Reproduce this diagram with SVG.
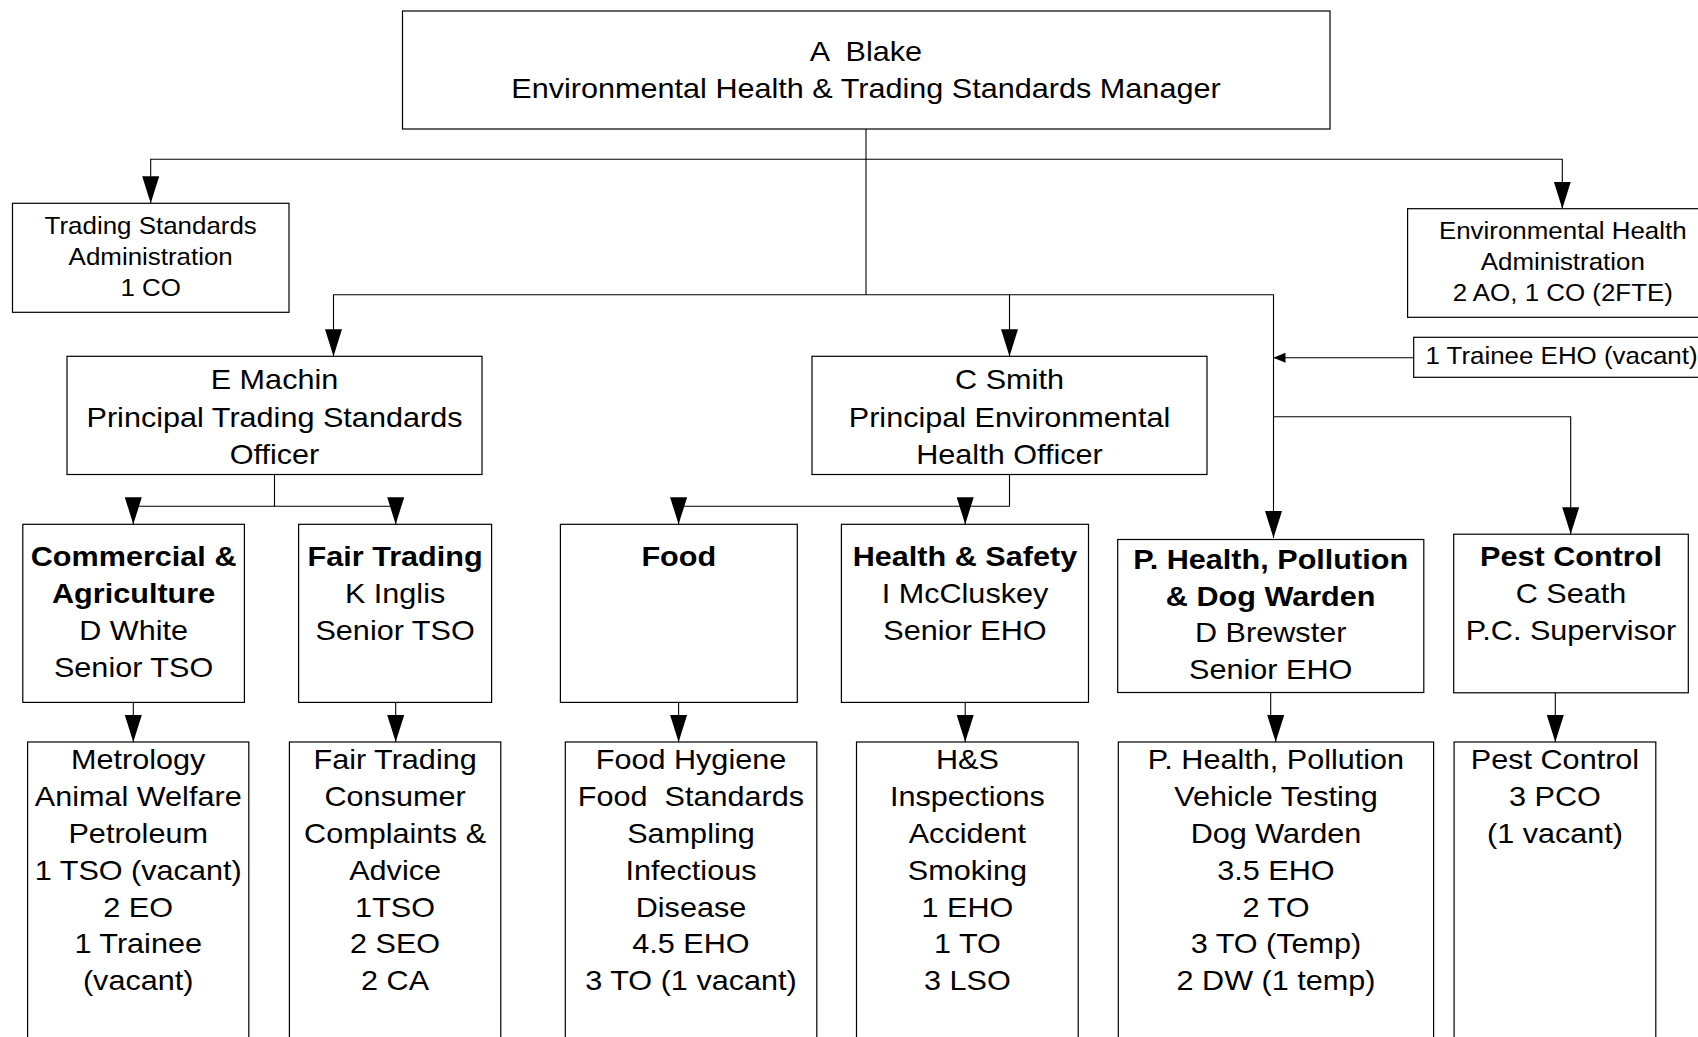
<svg xmlns="http://www.w3.org/2000/svg" width="1698" height="1037" viewBox="0 0 1698 1037">
<style>
.box { fill: #fff; stroke: #000; stroke-width: 1.2; }
.c { fill: none; stroke: #000; stroke-width: 1.1; }
.t { font-family: "Liberation Sans", Arial, sans-serif; font-size: 28px; text-anchor: middle; fill: #000; transform-box: fill-box; transform-origin: center; transform: scaleX(1.093); }
.b { font-weight: bold; }
.s { font-size: 24px; transform: scaleX(1.08); }
</style>
<defs>
<marker id="ah" viewBox="0 0 27 17" refX="27" refY="8.5" markerWidth="27" markerHeight="17" markerUnits="userSpaceOnUse" orient="auto">
<path d="M0,0 L27,8.5 L0,17 Z" fill="#000"/>
</marker>
<marker id="ahs" viewBox="0 0 12 10" refX="12" refY="5" markerWidth="12" markerHeight="10" markerUnits="userSpaceOnUse" orient="auto">
<path d="M0,0 L12,5 L0,10 Z" fill="#000"/>
</marker>
</defs>
<rect width="1698" height="1037" fill="#fff"/>

<g id="connectors">
<path class="c" d="M866,129 V294.7"/>
<path class="c" d="M866,159.3 H150.7 V203.3" marker-end="url(#ah)"/>
<path class="c" d="M866,159.3 H1562.3 V208.7" marker-end="url(#ah)"/>
<path class="c" d="M866,294.7 H333.5 V356.3" marker-end="url(#ah)"/>
<path class="c" d="M866,294.7 H1009.5 V356.3" marker-end="url(#ah)"/>
<path class="c" d="M1009.5,294.7 H1273.5 V538" marker-end="url(#ah)"/>
<path class="c" d="M1413.7,357.7 H1273.5" marker-end="url(#ahs)"/>
<path class="c" d="M1273.5,416.7 H1570.7 V534.2" marker-end="url(#ah)"/>
<path class="c" d="M274.5,474.5 V506.2 H133.3 V524.3" marker-end="url(#ah)"/>
<path class="c" d="M274.5,506.2 H395.7 V524.3" marker-end="url(#ah)"/>
<path class="c" d="M1009.5,474.5 V506.2 H678.6 V524.3" marker-end="url(#ah)"/>
<path class="c" d="M965.2,506.2 V524.3" marker-end="url(#ah)"/>
<path class="c" d="M133.3,702.4 V742" marker-end="url(#ah)"/>
<path class="c" d="M395.7,702.4 V742" marker-end="url(#ah)"/>
<path class="c" d="M678.6,702.4 V742" marker-end="url(#ah)"/>
<path class="c" d="M965.2,702.4 V742" marker-end="url(#ah)"/>
<path class="c" d="M1270.7,692.5 V718.3 H1275.7 V742" marker-end="url(#ah)"/>
<path class="c" d="M1555.3,692.8 V742" marker-end="url(#ah)"/>
</g>

<g id="manager">
<rect class="box" x="402.5" y="11" width="927.5" height="118"/>
<text class="t" x="866" y="61" xml:space="preserve">A  Blake</text>
<text class="t" x="866" y="97.7">Environmental Health &amp; Trading Standards Manager</text>
</g>

<g id="ts-admin">
<rect class="box" x="12.5" y="203.3" width="276.5" height="109"/>
<text class="t s" x="150.7" y="234.5">Trading Standards</text>
<text class="t s" x="150.7" y="265.5">Administration</text>
<text class="t s" x="150.7" y="296.5">1 CO</text>
</g>

<g id="eh-admin">
<rect class="box" x="1407.6" y="208.7" width="310" height="108.6"/>
<text class="t s" x="1562.8" y="239.5">Environmental Health</text>
<text class="t s" x="1562.8" y="270.5">Administration</text>
<text class="t s" x="1562.8" y="301.5">2 AO, 1 CO (2FTE)</text>
</g>

<g id="trainee">
<rect class="box" x="1413.7" y="337.3" width="300" height="40"/>
<text class="t s" x="1561.5" y="364.3">1 Trainee EHO (vacant)</text>
</g>

<g id="machin">
<rect class="box" x="67" y="356.3" width="415" height="118.2"/>
<text class="t" x="274.5" y="389.3">E Machin</text>
<text class="t" x="274.5" y="426.7">Principal Trading Standards</text>
<text class="t" x="274.5" y="464">Officer</text>
</g>

<g id="smith">
<rect class="box" x="812" y="356.3" width="395" height="118.2"/>
<text class="t" x="1009.5" y="389.3">C Smith</text>
<text class="t" x="1009.5" y="426.7">Principal Environmental</text>
<text class="t" x="1009.5" y="464">Health Officer</text>
</g>

<g id="commercial">
<rect class="box" x="22.8" y="524.3" width="221.6" height="178.1"/>
<text class="t b" x="133.6" y="566.5">Commercial &amp;</text>
<text class="t b" x="133.6" y="603.5">Agriculture</text>
<text class="t" x="133.6" y="640.5">D White</text>
<text class="t" x="133.6" y="677.5">Senior TSO</text>
</g>

<g id="fair-trading">
<rect class="box" x="298.6" y="524.3" width="193" height="178.1"/>
<text class="t b" x="395.1" y="566.5">Fair Trading</text>
<text class="t" x="395.1" y="603.5">K Inglis</text>
<text class="t" x="395.1" y="640.5">Senior TSO</text>
</g>

<g id="food">
<rect class="box" x="560.4" y="524.3" width="236.9" height="178.1"/>
<text class="t b" x="678.8" y="566.5">Food</text>
</g>

<g id="health-safety">
<rect class="box" x="841.4" y="524.3" width="247.1" height="178.1"/>
<text class="t b" x="965" y="566.5">Health &amp; Safety</text>
<text class="t" x="965" y="603.5">I McCluskey</text>
<text class="t" x="965" y="640.5">Senior EHO</text>
</g>

<g id="p-health">
<rect class="box" x="1117.7" y="539.5" width="306.1" height="153"/>
<text class="t b" x="1270.7" y="569">P. Health, Pollution</text>
<text class="t b" x="1270.7" y="606">&amp; Dog Warden</text>
<text class="t" x="1270.7" y="642.5">D Brewster</text>
<text class="t" x="1270.7" y="679.5">Senior EHO</text>
</g>

<g id="pest-control">
<rect class="box" x="1453.7" y="534.2" width="234.6" height="158.6"/>
<text class="t b" x="1571" y="566">Pest Control</text>
<text class="t" x="1571" y="603">C Seath</text>
<text class="t" x="1571" y="640">P.C. Supervisor</text>
</g>

<g id="metrology">
<rect class="box" x="27.6" y="742" width="221.2" height="310"/>
<text class="t" x="138.2" y="769.5">Metrology</text>
<text class="t" x="138.2" y="806.3">Animal Welfare</text>
<text class="t" x="138.2" y="843.1">Petroleum</text>
<text class="t" x="138.2" y="879.9">1 TSO (vacant)</text>
<text class="t" x="138.2" y="916.7">2 EO</text>
<text class="t" x="138.2" y="953.5">1 Trainee</text>
<text class="t" x="138.2" y="990.3">(vacant)</text>
</g>

<g id="fair-trading-team">
<rect class="box" x="289.4" y="742" width="211.4" height="310"/>
<text class="t" x="395.1" y="769.5">Fair Trading</text>
<text class="t" x="395.1" y="806.3">Consumer</text>
<text class="t" x="395.1" y="843.1">Complaints &amp;</text>
<text class="t" x="395.1" y="879.9">Advice</text>
<text class="t" x="395.1" y="916.7">1TSO</text>
<text class="t" x="395.1" y="953.5">2 SEO</text>
<text class="t" x="395.1" y="990.3">2 CA</text>
</g>

<g id="food-team">
<rect class="box" x="565.3" y="742" width="251.5" height="310"/>
<text class="t" x="691" y="769.5">Food Hygiene</text>
<text class="t" x="691" y="806.3" xml:space="preserve">Food  Standards</text>
<text class="t" x="691" y="843.1">Sampling</text>
<text class="t" x="691" y="879.9">Infectious</text>
<text class="t" x="691" y="916.7">Disease</text>
<text class="t" x="691" y="953.5">4.5 EHO</text>
<text class="t" x="691" y="990.3">3 TO (1 vacant)</text>
</g>

<g id="hs-team">
<rect class="box" x="856.5" y="742" width="221.7" height="310"/>
<text class="t" x="967.4" y="769.5">H&amp;S</text>
<text class="t" x="967.4" y="806.3">Inspections</text>
<text class="t" x="967.4" y="843.1">Accident</text>
<text class="t" x="967.4" y="879.9">Smoking</text>
<text class="t" x="967.4" y="916.7">1 EHO</text>
<text class="t" x="967.4" y="953.5">1 TO</text>
<text class="t" x="967.4" y="990.3">3 LSO</text>
</g>

<g id="ph-team">
<rect class="box" x="1118.3" y="742" width="315.3" height="310"/>
<text class="t" x="1276" y="769.5">P. Health, Pollution</text>
<text class="t" x="1276" y="806.3">Vehicle Testing</text>
<text class="t" x="1276" y="843.1">Dog Warden</text>
<text class="t" x="1276" y="879.9">3.5 EHO</text>
<text class="t" x="1276" y="916.7">2 TO</text>
<text class="t" x="1276" y="953.5">3 TO (Temp)</text>
<text class="t" x="1276" y="990.3">2 DW (1 temp)</text>
</g>

<g id="pest-team">
<rect class="box" x="1454.1" y="742" width="201.7" height="310"/>
<text class="t" x="1555" y="769.5">Pest Control</text>
<text class="t" x="1555" y="806.3">3 PCO</text>
<text class="t" x="1555" y="843.1">(1 vacant)</text>
</g>
</svg>
